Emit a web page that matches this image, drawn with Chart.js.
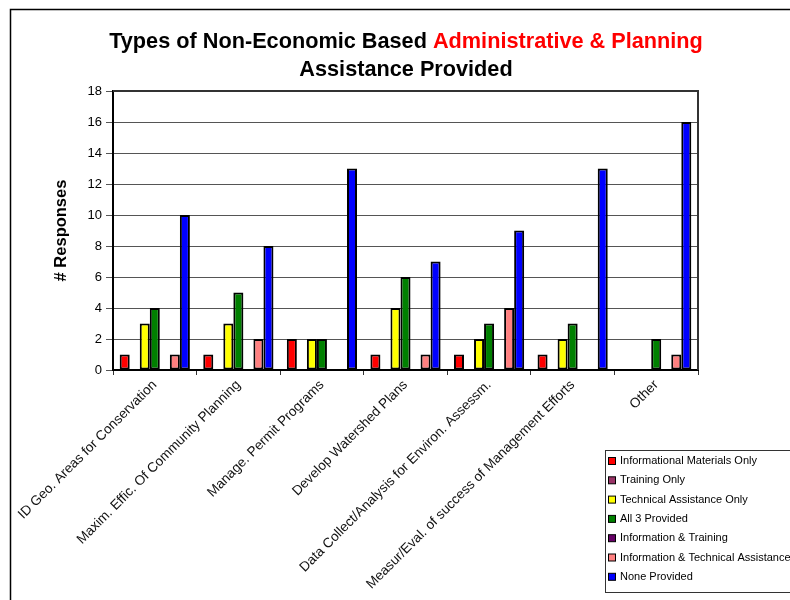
<!DOCTYPE html>
<html>
<head>
<meta charset="utf-8">
<title>Non-Economic Administrative & Planning Assistance</title>
<script src="https://cdn.jsdelivr.net/npm/chart.js@4.4.1/dist/chart.umd.min.js"></script>
<style>
  html, body { margin: 0; padding: 0; background: #fff; }
  #wrap { width: 790px; height: 600px; position: relative; }
</style>
</head>
<body>
<div id="wrap"><canvas id="assistChart" width="790" height="600"></canvas></div>
<script>
const categories = [
  "ID Geo. Areas for Conservation",
  "Maxim. Effic. Of Community Planning",
  "Manage. Permit Programs",
  "Develop Watershed Plans",
  "Data Collect/Analysis for Environ. Assessm.",
  "Measur/Eval. of success of Management Efforts",
  "Other"
];

const seriesNames = [
  "Informational Materials Only",
  "Training Only",
  "Technical Assistance Only",
  "All 3 Provided",
  "Information & Training",
  "Information & Technical Assistance",
  "None Provided"
];

const seriesColors = ["#FF0000", "#993366", "#FFFF00", "#008000", "#660066", "#FF8080", "#0000FF"];

// responses per category, one array per series
const infoOnly      = [1, 1, 2, 1, 1, 1, 0];
const trainingOnly  = [0, 0, 0, 0, 0, 0, 0];
const techOnly      = [3, 3, 2, 4, 2, 2, 0];
const allThree      = [4, 5, 2, 6, 3, 3, 2];
const infoTraining  = [0, 0, 0, 0, 0, 0, 0];
const infoTech      = [1, 2, 0, 1, 4, 0, 1];
const noneProvided  = [10, 8, 13, 7, 9, 13, 16];

const seriesValues = [infoOnly, trainingOnly, techOnly, allThree, infoTraining, infoTech, noneProvided];

const yTicks = [0, 2, 4, 6, 8, 10, 12, 14, 16, 18];

const FONT = "'Liberation Sans', Arial, sans-serif";

// frame, title, plot border and the boxed legend
const decorations = {
  id: "decorations",
  beforeDraw(chart) {
    const ctx = chart.ctx;
    ctx.save();
    ctx.fillStyle = "#fff";
    ctx.fillRect(0, 0, chart.width, chart.height);
    ctx.strokeStyle = "#000";
    ctx.lineWidth = 1.5;
    ctx.strokeRect(10.5, 9.5, 900, 900);
    ctx.restore();
  },
  afterDraw(chart) {
    const ctx = chart.ctx;
    const area = chart.chartArea;
    ctx.save();

    // title, second half of line one in red
    ctx.font = "bold 21.7px " + FONT;
    ctx.textBaseline = "middle";
    const partA = "Types of Non-Economic Based ";
    const partB = "Administrative & Planning";
    const wA = ctx.measureText(partA).width;
    const wB = ctx.measureText(partB).width;
    const cx = 406;
    let x0 = cx - (wA + wB) / 2;
    ctx.textAlign = "left";
    ctx.fillStyle = "#000";
    ctx.fillText(partA, x0, 42);
    ctx.fillStyle = "#FF0000";
    ctx.fillText(partB, x0 + wA, 42);
    ctx.fillStyle = "#000";
    ctx.textAlign = "center";
    ctx.fillText("Assistance Provided", cx, 70);

    // plot area outline
    ctx.strokeStyle = "#333";
    ctx.lineWidth = 2;
    ctx.beginPath();
    ctx.moveTo(area.left, area.top);
    ctx.lineTo(area.right, area.top);
    ctx.lineTo(area.right, area.bottom);
    ctx.stroke();

    // legend
    const lx = 605, ly = 450;
    ctx.strokeStyle = "#333";
    ctx.lineWidth = 1;
    ctx.strokeRect(lx + 0.5, ly + 0.5, 250, 142);
    ctx.font = "11px " + FONT;
    ctx.textAlign = "left";
    ctx.textBaseline = "middle";
    chart.data.datasets.forEach((ds, i) => {
      const y = ly + 11 + i * 19.3;
      ctx.fillStyle = ds.backgroundColor;
      ctx.fillRect(lx + 3.5, y - 3.5, 7, 7);
      ctx.strokeStyle = "#000";
      ctx.lineWidth = 1;
      ctx.strokeRect(lx + 3.5, y - 3.5, 7, 7);
      ctx.fillStyle = "#000";
      ctx.fillText(ds.label, lx + 15, y);
    });
    ctx.restore();
  }
};

const datasets = seriesNames.map((name, i) => ({
  label: name,
  data: seriesValues[i],
  backgroundColor: seriesColors[i],
  borderColor: "#000",
  borderWidth: 2,
  borderSkipped: false,
  categoryPercentage: 0.84,
  barPercentage: 1.0
}));

new Chart(document.getElementById("assistChart"), {
  type: "bar",
  data: { labels: categories, datasets: datasets },
  plugins: [decorations],
  options: {
    responsive: false,
    animation: false,
    layout: { padding: { left: 48, top: 91, right: 92, bottom: 0 } },
    plugins: {
      legend: { display: false },
      title: { display: false },
      tooltip: { enabled: false }
    },
    scales: {
      x: {
        grid: {
          offset: true,
          drawOnChartArea: false,
          tickLength: 5,
          color: "#333"
        },
        border: { color: "#000", width: 2 },
        ticks: {
          autoSkip: false,
          minRotation: 45,
          maxRotation: 45,
          color: "#111",
          padding: 2,
          font: { family: FONT, size: 13.6 }
        },
        afterFit(scale) { scale.height = 230; }
      },
      y: {
        min: 0,
        max: 18,
        afterBuildTicks(scale) { scale.ticks = yTicks.map(v => ({ value: v })); },
        grid: { color: "#555", lineWidth: 1, tickLength: 7 },
        border: { color: "#000", width: 2 },
        ticks: {
          color: "#000",
          padding: 4,
          font: { family: FONT, size: 13 }
        },
        title: {
          display: true,
          text: "# Responses",
          color: "#000",
          padding: 4,
          font: { family: FONT, size: 16.5, weight: "bold" }
        },
        afterFit(scale) { scale.width = 65; }
      }
    }
  }
});
</script>
</body>
</html>
